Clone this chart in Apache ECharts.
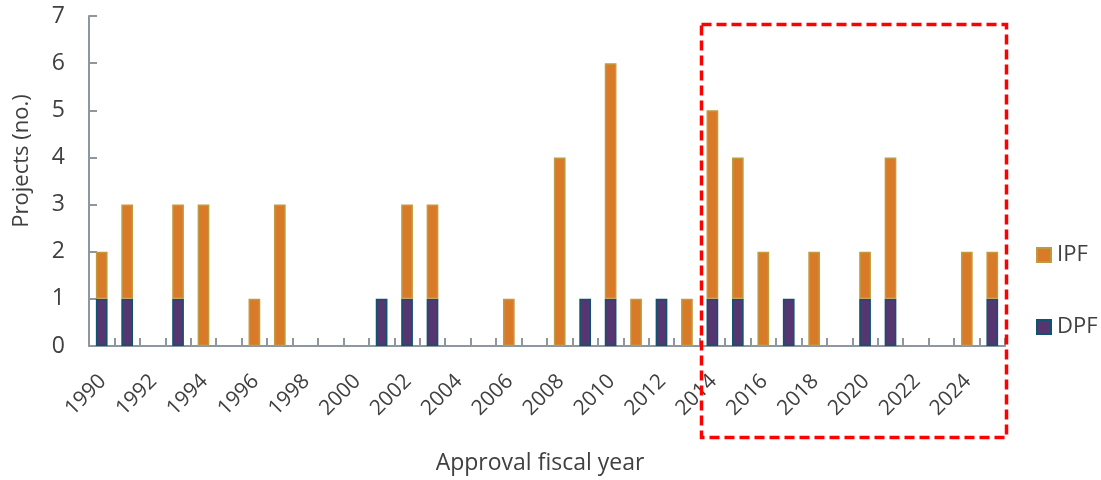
<!DOCTYPE html>
<html>
<head>
<meta charset="utf-8">
<script src="https://cdn.jsdelivr.net/npm/echarts@6/dist/echarts.min.js"></script>
<style>
  html, body { margin: 0; padding: 0; background: #ffffff; }
  #chart { width: 1101px; height: 480px; }
</style>
</head>
<body>
<div id="chart"></div>
<script>
// Approval fiscal years
const years = [];
for (let y = 1990; y <= 2025; y++) years.push(String(y));

// Project counts per year by instrument
const dpf = [1, 1, 0, 1, 0, 0, 0, 0, 0, 0, 0, 1, 1, 1, 0, 0, 0, 0, 0, 1, 1, 0, 1, 0, 1, 1, 0, 1, 0, 0, 1, 1, 0, 0, 0, 1];
const ipf = [1, 2, 0, 2, 3, 0, 1, 3, 0, 0, 0, 0, 2, 2, 0, 0, 1, 0, 4, 0, 5, 1, 0, 1, 4, 3, 2, 0, 2, 0, 1, 3, 0, 0, 2, 1];

// Year labels shown under the axis (every second year)
const yearLabels = years.filter((_, i) => i % 2 === 0);

const yTicks = [0, 1, 2, 3, 4, 5, 6, 7];

const FONT = '"Open Sans", "Noto Sans", sans-serif';
const TEXT = '#404040';
const AXIS = '#8e96a0';

const blank = v => (v === 0 ? '-' : v);

const chart = echarts.init(document.getElementById('chart'));
chart.setOption({
  animation: false,
  textStyle: { fontFamily: FONT },
  grid: { left: 89, right: 96, top: 16, bottom: 133 },
  legend: {
    orient: 'vertical',
    left: 1031,
    top: 239,
    icon: 'rect',
    itemWidth: 14,
    itemHeight: 14,
    itemGap: 50,
    data: ['IPF', 'DPF'],
    textStyle: { fontFamily: FONT, fontSize: 22, color: TEXT, padding: [0, 0, 0, 1] }
  },
  xAxis: {
    type: 'category',
    data: years,
    name: 'Approval fiscal year',
    nameLocation: 'middle',
    nameGap: 106,
    nameMoveOverlap: false,
    nameTextStyle: { fontFamily: FONT, fontSize: 23, color: TEXT, padding: [0, 14, 0, 0] },
    axisLine: { lineStyle: { color: AXIS, width: 2 } },
    axisTick: { show: true, inside: true, length: 8, interval: 0, lineStyle: { color: AXIS, width: 2 } },
    axisLabel: { show: false }
  },
  yAxis: {
    type: 'value',
    min: yTicks[0],
    max: yTicks[yTicks.length - 1],
    interval: 1,
    name: 'Projects (no.)',
    nameLocation: 'middle',
    nameGap: 56,
    nameTextStyle: { fontFamily: FONT, fontSize: 22, color: TEXT, padding: [0, 0, 0, 40] },
    splitLine: { show: false },
    axisLine: { show: true, lineStyle: { color: AXIS, width: 2 } },
    axisTick: { show: true, inside: true, length: 8, lineStyle: { color: AXIS, width: 2 } },
    axisLabel: { fontFamily: FONT, fontSize: 23, color: TEXT, margin: 24 }
  },
  series: [
    {
      name: 'DPF',
      type: 'bar',
      stack: 'total',
      barWidth: '46%',
      data: dpf.map(blank),
      itemStyle: { color: '#553671', borderColor: '#0d5470', borderWidth: 1.5 }
    },
    {
      name: 'IPF',
      type: 'bar',
      stack: 'total',
      barWidth: '46%',
      data: ipf.map(blank),
      itemStyle: { color: '#d97a29', borderColor: '#c09a3e', borderWidth: 1.5 }
    },
    {
      // rotated year labels placed from the category axis coordinates
      name: 'yearLabels',
      type: 'custom',
      clip: false,
      silent: true,
      data: yearLabels.map(y => [y, 0]),
      renderItem: function (params, api) {
        const pt = api.coord([api.value(0), 0]);
        return {
          type: 'text',
          x: pt[0] + 1,
          y: pt[1] + 32,
          rotation: Math.PI / 4,
          style: {
            text: yearLabels[params.dataIndex],
            fill: TEXT,
            fontFamily: FONT,
            fontSize: 21,
            align: 'right',
            verticalAlign: 'middle'
          }
        };
      }
    }
  ],
  graphic: [
    {
      type: 'rect',
      shape: { x: 701.5, y: 24.5, width: 305, height: 413 },
      style: { fill: 'none', stroke: '#ff0000', lineWidth: 3.5, lineDash: [10, 5] },
      z: 100
    }
  ]
});
</script>
</body>
</html>
